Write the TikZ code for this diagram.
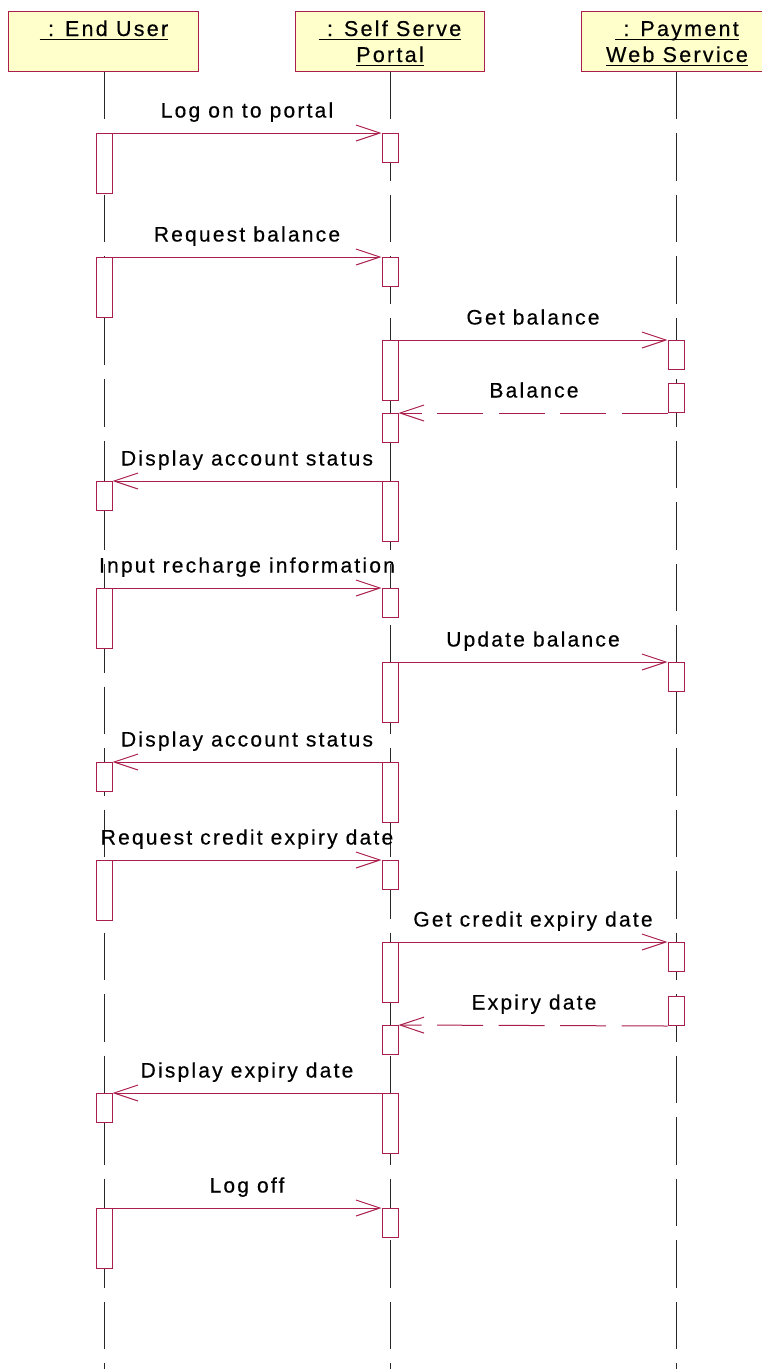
\documentclass[tikz,border=0pt]{standalone}
\usepackage{fontspec}
\setmainfont{Liberation Sans}
\newfontfamily\lblfont[LetterSpace=10.5,FakeBold=0.4]{Liberation Sans}
\usetikzlibrary{arrows.meta}
\definecolor{crim}{RGB}{170,30,75}
\definecolor{hdrfill}{RGB}{255,255,204}
\definecolor{lifec}{RGB}{40,40,40}
\begin{document}
\begin{tikzpicture}[x=1pt,y=-1pt,
  hdr/.style={draw=crim, fill=hdrfill, line width=1pt, rectangle, inner sep=0pt, minimum width=190pt, minimum height=60pt},
  htxt/.style={anchor=base, inner sep=0pt, font=\lblfont\fontsize{21.5}{26}\selectfont},
  uline/.style={draw=black, line width=1.3pt},
  lifeline/.style={draw=lifec, line width=1pt, dash pattern=on 47.5pt off 14pt},
  act/.style={draw=crim, fill=white, line width=1pt, rectangle, inner sep=0pt, minimum width=16pt, anchor=north},
  lbl/.style={anchor=base, inner sep=0pt, font=\lblfont\fontsize{21}{24}\selectfont},
  msg/.style={draw=crim, line width=1pt, -{Straight Barb[length=24pt,width=16pt]}},
  ret/.style={msg, dash pattern=on 46pt off 15.5pt}
]
\useasboundingbox (0,0) rectangle (761,1369);

% lifeline ends
\coordinate (euEnd) at (104,1369);
\coordinate (ptEnd) at (390,1369);
\coordinate (pyEnd) at (676,1369);

% headers
\node[hdr] (eu) at (103,41) {};
\node[hdr, minimum width=189pt] (pt) at (389.5,41) {};
\node[hdr] (py) at (676,41) {};

% lifelines
\draw[lifeline] (eu.south -| euEnd) -- (euEnd);
\draw[lifeline] (pt.south -| ptEnd) -- (ptEnd);
\draw[lifeline] (py.south -| pyEnd) -- (pyEnd);

% header texts
\node[htxt] (eut) at (104,36) {\ : End User};
\node[htxt] (ptt1) at (390,36) {\ : Self Serve\ };
\node[htxt] (ptt2) at (390,62) {Portal};
\node[htxt] (pyt1) at (677,36) {\ : Payment\ };
\node[htxt] (pyt2) at (677,62) {Web Service};
\foreach \t in {eut,ptt1,ptt2,pyt1,pyt2}{
  \draw[uline] ([yshift=-3.3pt]\t.base west) -- ([yshift=-3.3pt]\t.base east);
}

% activation boxes - End User
\node[act, minimum height=60pt] (e1) at (104,133) {};
\node[act, minimum height=60pt] (e2) at (104,257) {};
\node[act, minimum height=29pt] (e3) at (104,481) {};
\node[act, minimum height=60pt] (e4) at (104,588) {};
\node[act, minimum height=29pt] (e5) at (104,762) {};
\node[act, minimum height=60pt] (e6) at (104,860) {};
\node[act, minimum height=29pt] (e7) at (104,1093) {};
\node[act, minimum height=60pt] (e8) at (104,1208) {};
% Portal
\node[act, minimum height=29pt] (p1) at (390,133) {};
\node[act, minimum height=29pt] (p2) at (390,257) {};
\node[act, minimum height=60pt] (p3) at (390,340) {};
\node[act, minimum height=29pt] (p4) at (390,413) {};
\node[act, minimum height=60pt] (p5) at (390,481) {};
\node[act, minimum height=29pt] (p6) at (390,588) {};
\node[act, minimum height=60pt] (p7) at (390,662) {};
\node[act, minimum height=60pt] (p8) at (390,762) {};
\node[act, minimum height=29pt] (p9) at (390,860) {};
\node[act, minimum height=60pt] (p10) at (390,942) {};
\node[act, minimum height=29pt] (p11) at (390,1025) {};
\node[act, minimum height=60pt] (p12) at (390,1093) {};
\node[act, minimum height=29pt] (p13) at (390,1208) {};
% Payment
\node[act, minimum height=29pt] (w1) at (676,340) {};
\node[act, minimum height=29pt] (w2) at (676,383) {};
\node[act, minimum height=29pt] (w3) at (676,662) {};
\node[act, minimum height=29pt] (w4) at (676,942) {};
\node[act, minimum height=29pt] (w5) at (676,996) {};

% messages
\draw[msg] (e1.north east) -- (p1.north west);
\node[lbl] (l1) at (247,117.5) {Log on to portal};
\draw[msg] (e2.north east) -- (p2.north west);
\node[lbl] (l2) at (247,241.5) {Request balance};
\draw[msg] (p3.north east) -- (w1.north west);
\node[lbl] (l3) at (533,324.5) {Get balance};
\draw[ret] (w2.south west) -- (p4.north east);
\node[lbl] (l4) at (534,397.5) {Balance};
\draw[msg] (p5.north west) -- (e3.north east);
\node[lbl] (l5) at (247,465.5) {Display account status};
\draw[msg] (e4.north east) -- (p6.north west);
\node[lbl] (l6) at (247,572.5) {Input recharge information};
\draw[msg] (p7.north east) -- (w3.north west);
\node[lbl] (l7) at (533,646.5) {Update balance};
\draw[msg] (p8.north west) -- (e5.north east);
\node[lbl] (l8) at (247,746.5) {Display account status};
\draw[msg] (e6.north east) -- (p9.north west);
\node[lbl] (l9) at (247,844.5) {Request credit expiry date};
\draw[msg] (p10.north east) -- (w4.north west);
\node[lbl] (l10) at (533,926.5) {Get credit expiry date};
\draw[ret] (w5.south west) -- (p11.north east);
\node[lbl] (l11) at (534,1009.5) {Expiry date};
\draw[msg] (p12.north west) -- (e7.north east);
\node[lbl] (l12) at (247,1077.5) {Display expiry date};
\draw[msg] (e8.north east) -- (p13.north west);
\node[lbl] (l13) at (247,1192.5) {Log off};
\end{tikzpicture}
\end{document}
